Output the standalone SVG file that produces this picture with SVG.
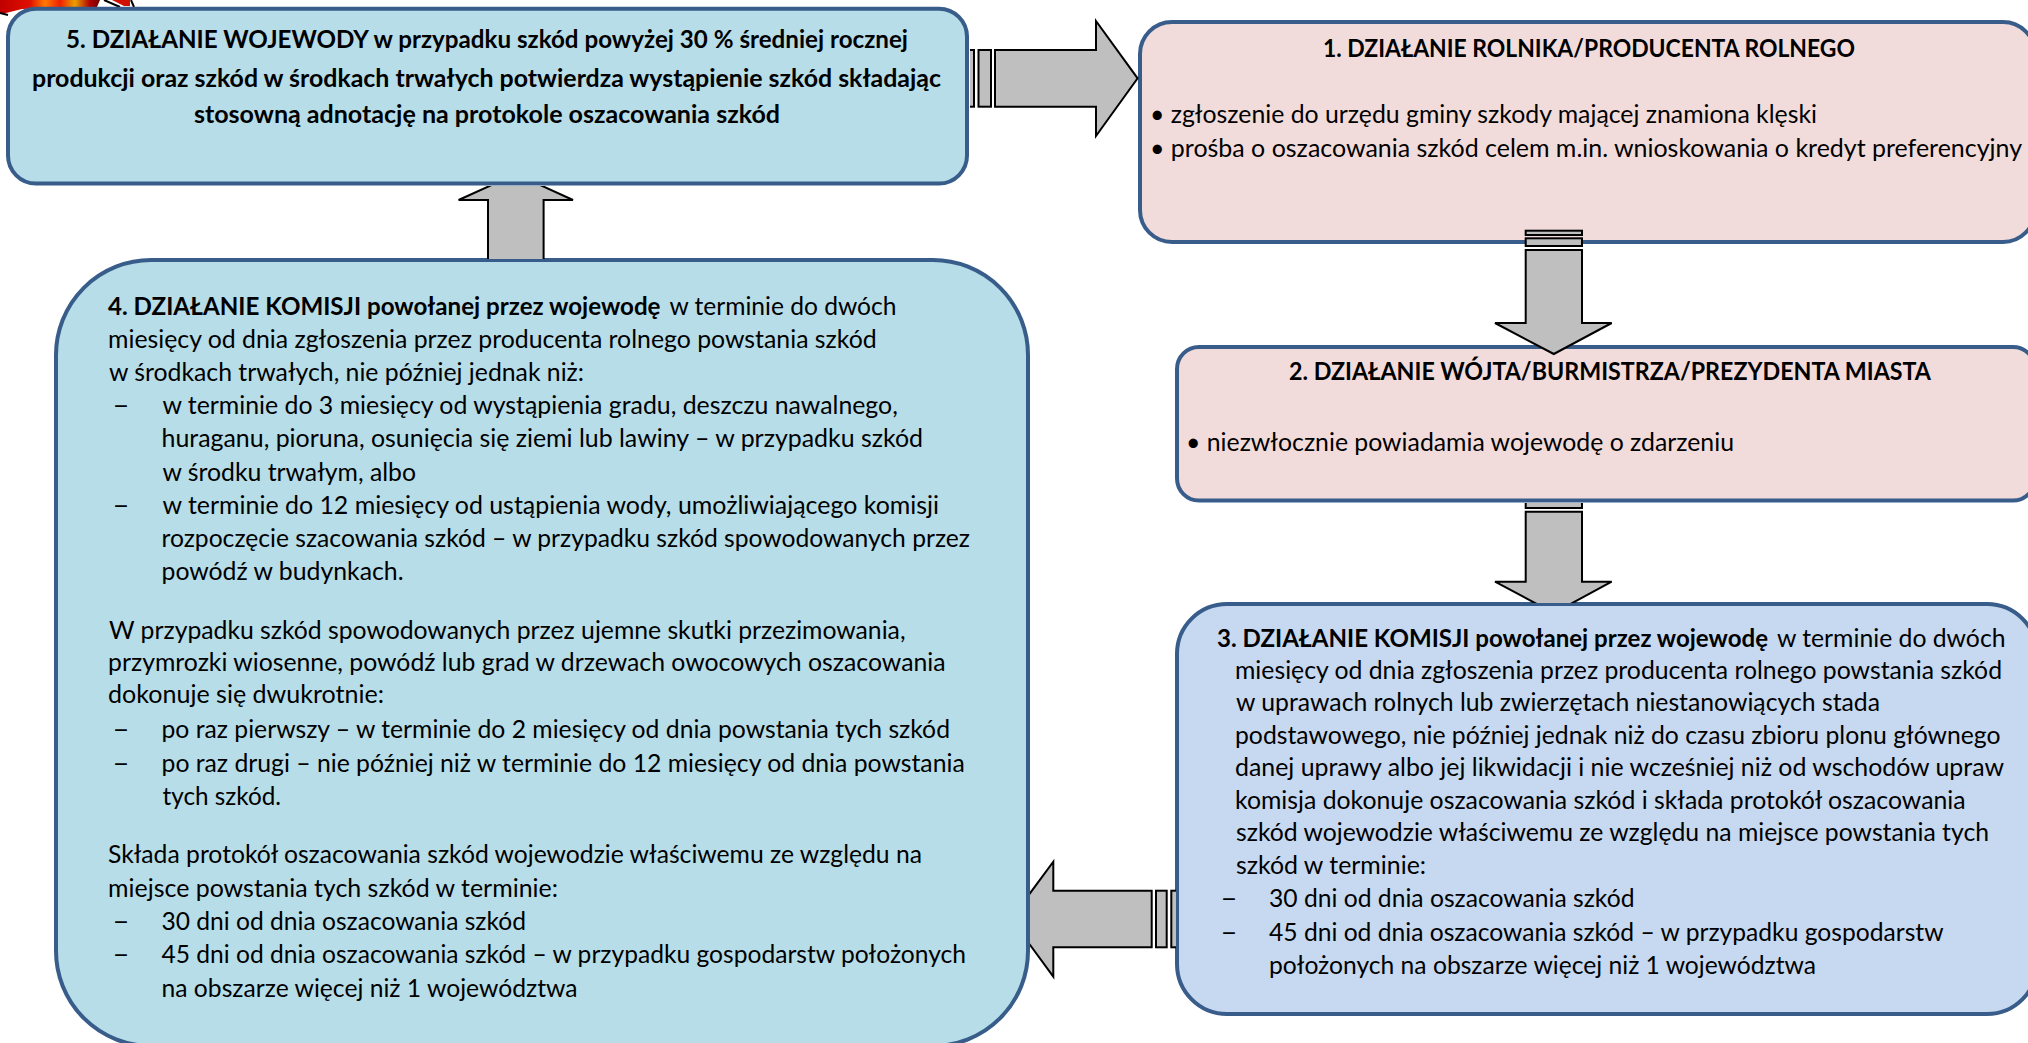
<svg xmlns="http://www.w3.org/2000/svg" width="2028" height="1043" viewBox="0 0 2028 1043">
<defs>
<style>
text{font-family:"Lato","Carlito","Open Sans",sans-serif;font-size:24.5px;fill:#000}
.b{font-weight:700}
.box{stroke:#385D8A;stroke-width:4}
.blue{fill:#B7DDE8}.pink{fill:#F2DCDB}.lav{fill:#C6D9F0}
.ar{fill:#BFBFBF;stroke:#000;stroke-width:2;stroke-linejoin:miter}
</style>
<linearGradient id="fire" x1="0" y1="0" x2="1" y2="0">
<stop offset="0" stop-color="#C00000"/><stop offset=".3" stop-color="#E01000"/><stop offset=".45" stop-color="#FF7A00"/><stop offset=".6" stop-color="#F02000"/><stop offset=".75" stop-color="#E8A000"/><stop offset=".9" stop-color="#B00000"/><stop offset="1" stop-color="#700000"/>
</linearGradient>
<clipPath id="cUp"><rect x="440" y="186" width="150" height="73"/></clipPath>
<clipPath id="cRight"><rect x="970" y="0" width="200" height="180"/></clipPath>
<clipPath id="cDown2"><rect x="1480" y="503" width="150" height="100"/></clipPath>
<clipPath id="cLeft"><rect x="1030" y="850" width="146" height="140"/></clipPath>
</defs>

<g id="fire-corner">
<polygon points="0,0 100,0 97,7 22,9 6,13 0,13" fill="url(#fire)"/>
<polyline points="0,13 8,15" fill="none" stroke="#000" stroke-width="2"/>
<polygon points="112,0 130,0 130,6 124,6" fill="#D01000"/>
<polyline points="104,0 120,7" fill="none" stroke="#000" stroke-width="2"/>
<polyline points="131,0 134,7" fill="none" stroke="#000" stroke-width="2"/>
</g>

<g id="node-5">
<rect class="box blue" x="8" y="8.7" width="959" height="174.8" rx="28"/>
<text class="b" x="66" y="48.3" textLength="842" lengthAdjust="spacingAndGlyphs">5. DZIAŁANIE WOJEWODY w przypadku szkód powyżej 30 % średniej rocznej</text>
<text class="b" x="32" y="86.7" textLength="909" lengthAdjust="spacingAndGlyphs">produkcji oraz szkód w środkach trwałych potwierdza wystąpienie szkód składając</text>
<text class="b" x="194" y="123.3" textLength="586" lengthAdjust="spacingAndGlyphs">stosowną adnotację na protokole oszacowania szkód</text>
</g>

<g id="node-1">
<rect class="box pink" x="1140" y="22" width="895" height="220" rx="32"/>
<text class="b" x="1323" y="56.7" textLength="532" lengthAdjust="spacingAndGlyphs">1. DZIAŁANIE ROLNIKA/PRODUCENTA ROLNEGO</text>
<text x="1150" y="122.7" textLength="667" lengthAdjust="spacingAndGlyphs">• zgłoszenie do urzędu gminy szkody mającej znamiona klęski</text>
<text x="1150" y="156.7" textLength="872" lengthAdjust="spacingAndGlyphs">• prośba o oszacowania szkód celem m.in. wnioskowania o kredyt preferencyjny</text>
</g>

<g id="node-2">
<rect class="box pink" x="1177" y="347" width="858" height="153.5" rx="22"/>
<text class="b" x="1289" y="380" textLength="642" lengthAdjust="spacingAndGlyphs">2. DZIAŁANIE WÓJTA/BURMISTRZA/PREZYDENTA MIASTA</text>
<text x="1186" y="451" textLength="548" lengthAdjust="spacingAndGlyphs">• niezwłocznie powiadamia wojewodę o zdarzeniu</text>
</g>

<g id="node-3">
<rect class="box lav" x="1177" y="604" width="860" height="410" rx="50"/>
<text class="b" x="1217" y="646.7" textLength="551" lengthAdjust="spacingAndGlyphs">3. DZIAŁANIE KOMISJI powołanej przez wojewodę</text>
<text x="1777" y="646.7" textLength="228.5" lengthAdjust="spacingAndGlyphs">w terminie do dwóch</text>
<text x="1235" y="678.6" textLength="767" lengthAdjust="spacingAndGlyphs">miesięcy od dnia zgłoszenia przez producenta rolnego powstania szkód</text>
<text x="1236" y="711" textLength="644" lengthAdjust="spacingAndGlyphs">w uprawach rolnych lub zwierzętach niestanowiących stada</text>
<text x="1235" y="743.5" textLength="765.5" lengthAdjust="spacingAndGlyphs">podstawowego, nie później jednak niż do czasu zbioru plonu głównego</text>
<text x="1235" y="776" textLength="769" lengthAdjust="spacingAndGlyphs">danej uprawy albo jej likwidacji i nie wcześniej niż od wschodów upraw</text>
<text x="1235" y="808.5" textLength="730.6" lengthAdjust="spacingAndGlyphs">komisja dokonuje oszacowania szkód i składa protokół oszacowania</text>
<text x="1236" y="841" textLength="753" lengthAdjust="spacingAndGlyphs">szkód wojewodzie właściwemu ze względu na miejsce powstania tych</text>
<text x="1236" y="873.5" textLength="190" lengthAdjust="spacingAndGlyphs">szkód w terminie:</text>
<text x="1220.6" y="907" textLength="17" lengthAdjust="spacingAndGlyphs">–</text>
<text x="1269" y="907" textLength="365.5" lengthAdjust="spacingAndGlyphs">30 dni od dnia oszacowania szkód</text>
<text x="1220.6" y="941" textLength="17" lengthAdjust="spacingAndGlyphs">–</text>
<text x="1269" y="941" textLength="674.5" lengthAdjust="spacingAndGlyphs">45 dni od dnia oszacowania szkód – w przypadku gospodarstw</text>
<text x="1269" y="974" textLength="547" lengthAdjust="spacingAndGlyphs">położonych na obszarze więcej niż 1 województwa</text>
</g>

<g id="node-4">
<rect class="box blue" x="56" y="260" width="972" height="786" rx="95"/>
<text class="b" x="108" y="315" textLength="552.5" lengthAdjust="spacingAndGlyphs">4. DZIAŁANIE KOMISJI powołanej przez wojewodę</text>
<text x="669.5" y="315" textLength="227" lengthAdjust="spacingAndGlyphs">w terminie do dwóch</text>
<text x="108" y="348.3" textLength="768.7" lengthAdjust="spacingAndGlyphs">miesięcy od dnia zgłoszenia przez producenta rolnego powstania szkód</text>
<text x="109" y="380.7" textLength="475" lengthAdjust="spacingAndGlyphs">w środkach trwałych, nie później jednak niż:</text>
<text x="112.6" y="414.3" textLength="17" lengthAdjust="spacingAndGlyphs">–</text>
<text x="162.5" y="414.3" textLength="735.3" lengthAdjust="spacingAndGlyphs">w terminie do 3 miesięcy od wystąpienia gradu, deszczu nawalnego,</text>
<text x="161.5" y="447.3" textLength="761.5" lengthAdjust="spacingAndGlyphs">huraganu, pioruna, osunięcia się ziemi lub lawiny – w przypadku szkód</text>
<text x="162.5" y="480.7" textLength="253.5" lengthAdjust="spacingAndGlyphs">w środku trwałym, albo</text>
<text x="112.6" y="514.3" textLength="17" lengthAdjust="spacingAndGlyphs">–</text>
<text x="162.5" y="514.3" textLength="776.5" lengthAdjust="spacingAndGlyphs">w terminie do 12 miesięcy od ustąpienia wody, umożliwiającego komisji</text>
<text x="161.5" y="546.7" textLength="808.5" lengthAdjust="spacingAndGlyphs">rozpoczęcie szacowania szkód – w przypadku szkód spowodowanych przez</text>
<text x="161.5" y="580" textLength="242" lengthAdjust="spacingAndGlyphs">powódź w budynkach.</text>
<text x="109" y="639" textLength="796.5" lengthAdjust="spacingAndGlyphs">W przypadku szkód spowodowanych przez ujemne skutki przezimowania,</text>
<text x="108" y="670.7" textLength="837.6" lengthAdjust="spacingAndGlyphs">przymrozki wiosenne, powódź lub grad w drzewach owocowych oszacowania</text>
<text x="108" y="703" textLength="276" lengthAdjust="spacingAndGlyphs">dokonuje się dwukrotnie:</text>
<text x="112.6" y="737.7" textLength="17" lengthAdjust="spacingAndGlyphs">–</text>
<text x="161.5" y="737.7" textLength="788.5" lengthAdjust="spacingAndGlyphs">po raz pierwszy – w terminie do 2 miesięcy od dnia powstania tych szkód</text>
<text x="112.6" y="771.7" textLength="17" lengthAdjust="spacingAndGlyphs">–</text>
<text x="161.5" y="771.7" textLength="803.2" lengthAdjust="spacingAndGlyphs">po raz drugi – nie później niż w terminie do 12 miesięcy od dnia powstania</text>
<text x="162.5" y="805" textLength="118.5" lengthAdjust="spacingAndGlyphs">tych szkód.</text>
<text x="108" y="863" textLength="814" lengthAdjust="spacingAndGlyphs">Składa protokół oszacowania szkód wojewodzie właściwemu ze względu na</text>
<text x="108" y="896.7" textLength="450" lengthAdjust="spacingAndGlyphs">miejsce powstania tych szkód w terminie:</text>
<text x="112.6" y="930" textLength="17" lengthAdjust="spacingAndGlyphs">–</text>
<text x="161.5" y="930" textLength="364.5" lengthAdjust="spacingAndGlyphs">30 dni od dnia oszacowania szkód</text>
<text x="112.6" y="963" textLength="17" lengthAdjust="spacingAndGlyphs">–</text>
<text x="161.5" y="963" textLength="804.5" lengthAdjust="spacingAndGlyphs">45 dni od dnia oszacowania szkód – w przypadku gospodarstw położonych</text>
<text x="161.5" y="996.7" textLength="416" lengthAdjust="spacingAndGlyphs">na obszarze więcej niż 1 województwa</text>
</g>

<g id="connectors">
<g id="arrow-5-1" clip-path="url(#cRight)">
<rect class="ar" x="966" y="50" width="8" height="56.7"/>
<rect class="ar" x="978.5" y="50" width="12.5" height="56.7"/>
<polygon class="ar" points="995,50 1096,50 1096,21 1137.6,78.3 1096,136 1096,106.7 995,106.7"/>
</g>
<g id="arrow-1-2">
<rect class="ar" x="1525.7" y="230.7" width="56.3" height="4.3"/>
<rect class="ar" x="1525.7" y="238.3" width="56.3" height="7.7"/>
<polygon class="ar" points="1525.7,250 1582,250 1582,323 1611.7,323 1553.8,354 1495,323 1525.7,323"/>
</g>
<g id="arrow-2-3" clip-path="url(#cDown2)">
<rect class="ar" x="1525.7" y="495" width="56.3" height="13"/>
<polygon class="ar" points="1525.7,511.7 1582,511.7 1582,581.7 1611.7,581.7 1553.8,613 1495,581.7 1525.7,581.7"/>
</g>
<g id="arrow-3-4" clip-path="url(#cLeft)">
<rect class="ar" x="1171.3" y="890.7" width="12" height="56.6"/>
<rect class="ar" x="1156" y="890.7" width="10.7" height="56.6"/>
<polygon class="ar" points="1151.7,890.7 1053.3,890.7 1053.3,861.7 1011,919 1053.3,976.7 1053.3,947.3 1151.7,947.3"/>
</g>
<g id="arrow-4-5" clip-path="url(#cUp)">
<polygon class="ar" points="488,265 488,200 458.6,200 516,174 573,200 543.6,200 543.6,265"/>
</g>
</g>
</svg>
